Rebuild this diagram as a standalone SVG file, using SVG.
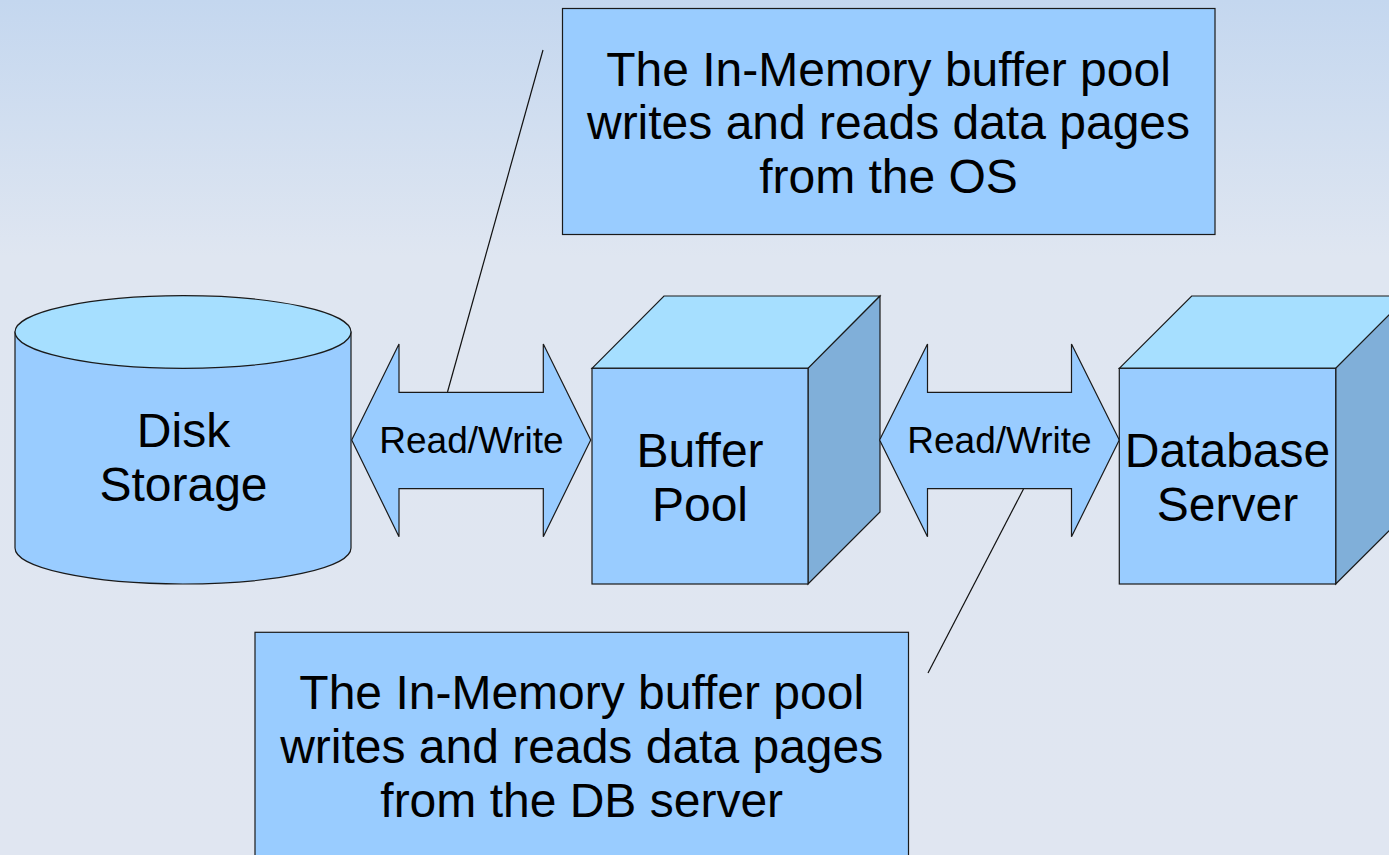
<svg xmlns="http://www.w3.org/2000/svg" width="1389" height="855" viewBox="0 0 1389 855">
<defs>
<linearGradient id="bg" x1="0" y1="0" x2="0" y2="855" gradientUnits="userSpaceOnUse">
<stop offset="0" stop-color="#c4d7ef"/>
<stop offset="0.3" stop-color="#dfe6f1"/>
<stop offset="1" stop-color="#e0e6f1"/>
</linearGradient>
</defs>
<style>
.sh{stroke:#1a1a1a;stroke-width:1.2;stroke-linejoin:miter}
.front{fill:#99ccff}
.top{fill:#a6dfff}
.side{fill:#80afd9}
.t{font-family:"Liberation Sans",Arial,sans-serif;fill:#000;text-anchor:middle}
.big{font-size:48px}
.mid{font-size:37px}
.ln{stroke:#111;stroke-width:1.2;fill:none}
</style>
<rect x="0" y="0" width="1389" height="855" fill="url(#bg)"/>

<g id="connectors">
<line class="ln" x1="543" y1="50" x2="447.5" y2="392"/>
<line class="ln" x1="1023.5" y1="489" x2="928" y2="673"/>
</g>

<g id="callout-os">
<rect class="sh front" x="562.5" y="8.5" width="652.5" height="226"/>
<text class="t big" x="888.5" y="85.7">The In-Memory buffer pool</text>
<text class="t big" x="888.5" y="139.3">writes and reads data pages</text>
<text class="t big" x="888.5" y="193">from the OS</text>
</g>

<g id="disk-storage">
<path class="sh front" d="M15,332 L15,548 A168,36 0 0 0 351,548 L351,332 Z"/>
<ellipse class="sh top" cx="183" cy="332" rx="168" ry="36.3"/>
<text class="t big" x="183.5" y="446.7">Disk</text>
<text class="t big" x="183.5" y="500.7">Storage</text>
</g>

<g id="arrow-1">
<polygon class="sh front" points="351.7,440 399,344 399,392.3 543.3,392.3 543.3,344 590.7,440 543.3,536.7 543.3,488.7 399,488.7 399,536.7"/>
<text class="t mid" x="471.5" y="453.3">Read/Write</text>
</g>

<g id="buffer-pool">
<polygon class="sh top" points="592,368.3 664,296 880,296 808,368.3"/>
<polygon class="sh side" points="808,368.3 880,296 880,512 808,584"/>
<rect class="sh front" x="592" y="368.3" width="216" height="215.7"/>
<text class="t big" x="700" y="466.7">Buffer</text>
<text class="t big" x="700" y="520.7">Pool</text>
</g>

<g id="arrow-2">
<polygon class="sh front" points="879.6,440 927.5,344 927.5,392.3 1071.5,392.3 1071.5,344 1119.3,440 1071.5,536.7 1071.5,488.7 927.5,488.7 927.5,536.7"/>
<text class="t mid" x="999.5" y="453.3">Read/Write</text>
</g>

<g id="database-server">
<polygon class="sh top" points="1119.3,368.3 1191.7,296 1408,296 1335.7,368.3"/>
<polygon class="sh side" points="1335.7,368.3 1408,296 1408,512 1335.7,584"/>
<rect class="sh front" x="1119.3" y="368.3" width="216.4" height="215.7"/>
<text class="t big" x="1227.5" y="466.7">Database</text>
<text class="t big" x="1227.5" y="520.7">Server</text>
</g>

<g id="callout-db">
<rect class="sh front" x="255" y="632.3" width="653.5" height="240"/>
<text class="t big" x="581.7" y="709.3">The In-Memory buffer pool</text>
<text class="t big" x="581.7" y="762.7">writes and reads data pages</text>
<text class="t big" x="581.7" y="816.5">from the DB server</text>
</g>
</svg>
